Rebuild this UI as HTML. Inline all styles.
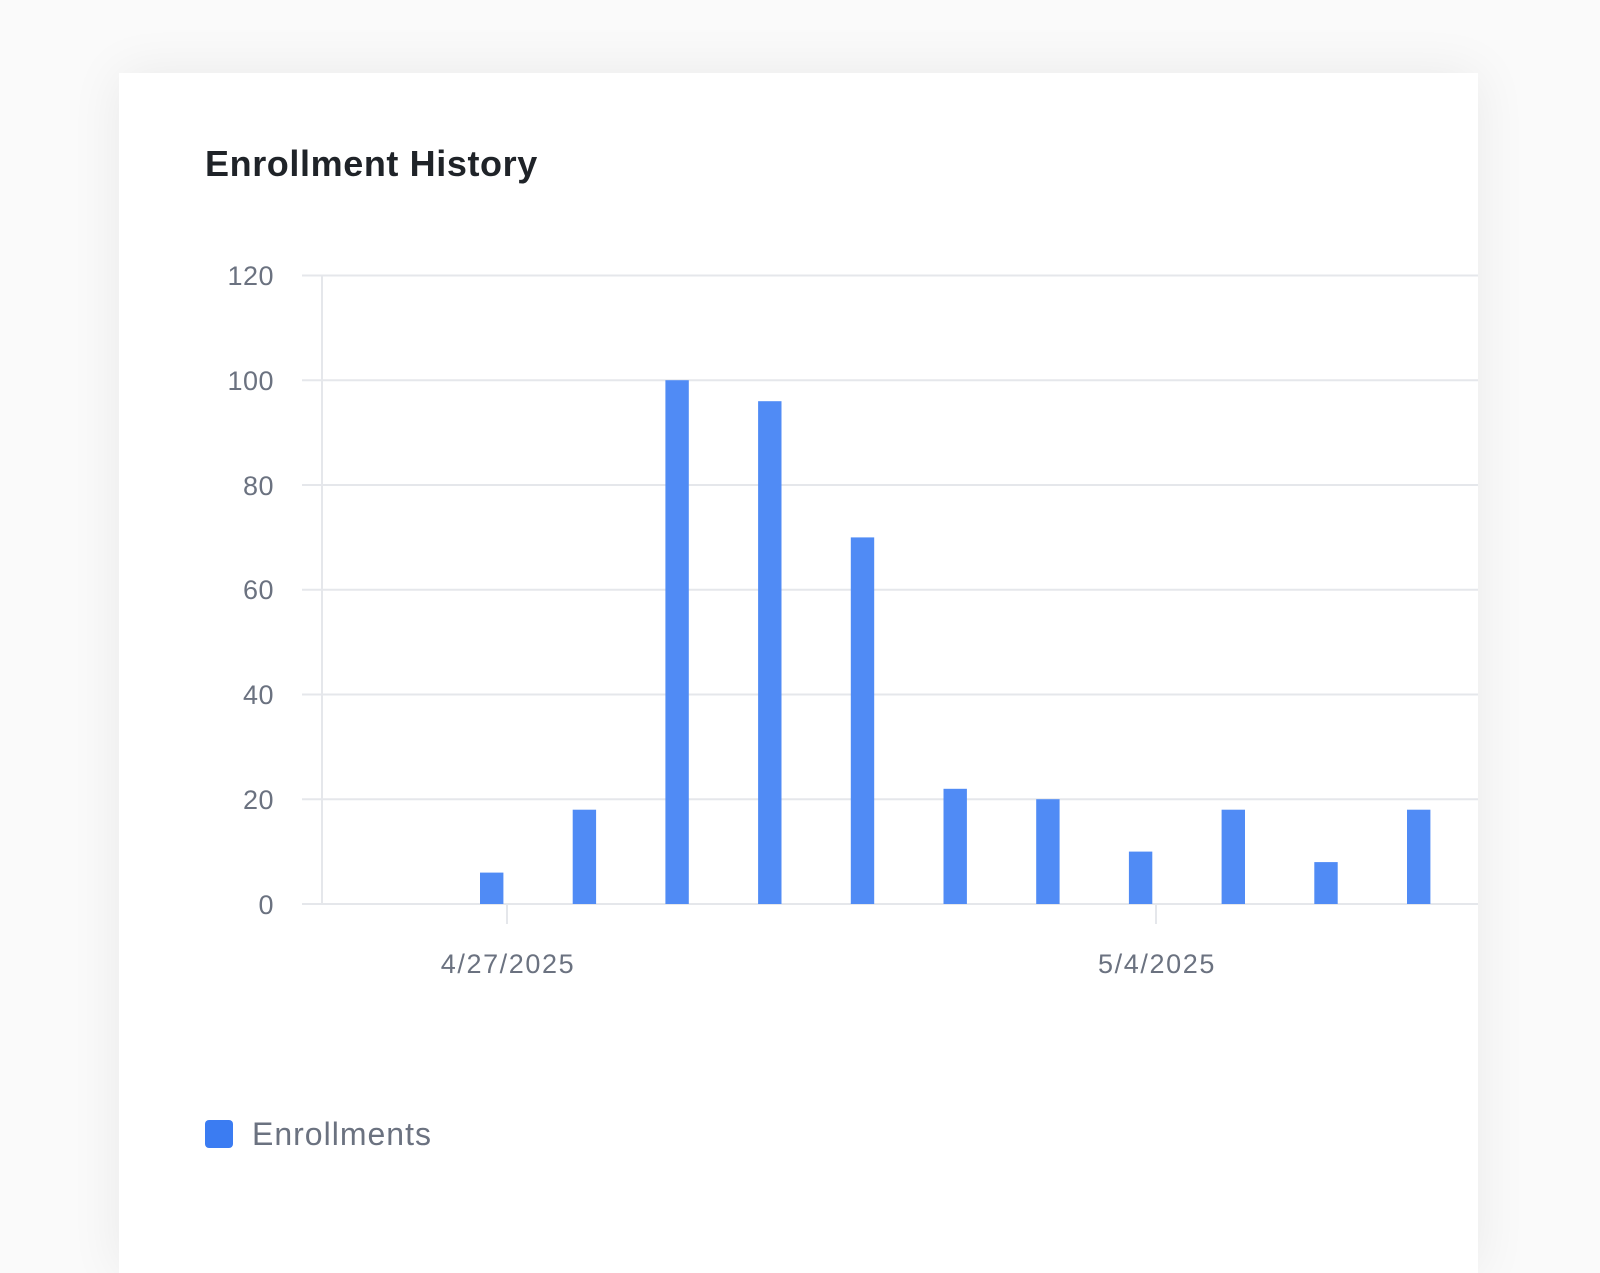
<!DOCTYPE html>
<html><head><meta charset="utf-8"><style>
html,body{margin:0;padding:0;width:1600px;height:1200px;background:#fafafa;overflow:hidden;font-family:"Liberation Sans",sans-serif;}
.card{position:absolute;left:119px;top:73px;width:1359px;height:1200px;background:#fff;box-shadow:0 0 50px rgba(0,0,0,0.07);}
</style></head><body>
<div class="card"></div>
<svg width="1600" height="1200" style="position:absolute;left:0;top:0" font-family="Liberation Sans, sans-serif">
<text x="205" y="176" font-size="36" font-weight="bold" fill="#1f2328" letter-spacing="0.6">Enrollment History</text>
<g stroke="#e5e7eb" stroke-width="2">
<line x1="302" x2="1478" y1="275.5" y2="275.5"/>
<line x1="302" x2="1478" y1="380.2" y2="380.2"/>
<line x1="302" x2="1478" y1="485" y2="485"/>
<line x1="302" x2="1478" y1="589.7" y2="589.7"/>
<line x1="302" x2="1478" y1="694.5" y2="694.5"/>
<line x1="302" x2="1478" y1="799.2" y2="799.2"/>
<line x1="302" x2="1478" y1="904" y2="904"/>
<line x1="322" x2="322" y1="275" y2="904"/>
<line x1="507" x2="507" y1="904" y2="924"/>
<line x1="1156" x2="1156" y1="904" y2="924"/>
</g>
<g font-size="27" fill="#6b7280" text-anchor="end" letter-spacing="0.5">
<text x="274" y="285">120</text>
<text x="274" y="390">100</text>
<text x="274" y="495">80</text>
<text x="274" y="599">60</text>
<text x="274" y="704">40</text>
<text x="274" y="809">20</text>
<text x="274" y="914">0</text>
</g>
<g font-size="27" fill="#6b7280" text-anchor="middle" letter-spacing="1.6">
<text x="508" y="973">4/27/2025</text>
<text x="1157" y="973">5/4/2025</text>
</g>
<g fill="#508bf5">
<rect x="480" y="872.6" width="23.4" height="31.4"/>
<rect x="572.7" y="809.7" width="23.4" height="94.3"/>
<rect x="665.4" y="380.2" width="23.4" height="523.8"/>
<rect x="758.1" y="401.2" width="23.4" height="502.8"/>
<rect x="850.8" y="537.4" width="23.4" height="366.6"/>
<rect x="943.5" y="788.8" width="23.4" height="115.2"/>
<rect x="1036.2" y="799.2" width="23.4" height="104.8"/>
<rect x="1128.9" y="851.6" width="23.4" height="52.4"/>
<rect x="1221.6" y="809.7" width="23.4" height="94.3"/>
<rect x="1314.3" y="862.1" width="23.4" height="41.9"/>
<rect x="1407" y="809.7" width="23.4" height="94.3"/>
</g>
<rect x="205" y="1120" width="28" height="28" rx="4" fill="#3b7cf2"/>
<text x="252" y="1145" font-size="32" fill="#6b7280" letter-spacing="1">Enrollments</text>
</svg>
</body></html>
